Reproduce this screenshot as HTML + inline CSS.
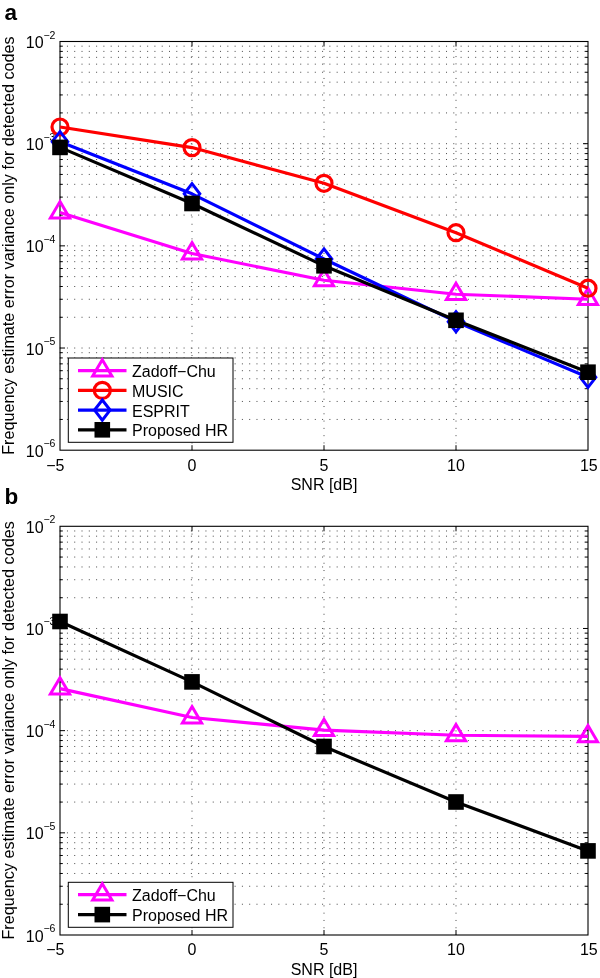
<!DOCTYPE html>
<html><head><meta charset="utf-8"><style>
html,body{margin:0;padding:0;background:#fff;}
body{width:600px;height:978px;overflow:hidden;}
svg{display:block;font-family:"Liberation Sans",sans-serif;will-change:transform;}
</style></head><body>
<svg width="600" height="978" viewBox="0 0 600 978">
<rect width="600" height="978" fill="#fff"/>
<path d="M59.65 419.44H588.00M59.65 401.45H588.00M59.65 388.68H588.00M59.65 378.78H588.00M59.65 370.69H588.00M59.65 363.85H588.00M59.65 357.93H588.00M59.65 352.70H588.00M59.65 348.02H588.00M59.65 317.27H588.00M59.65 299.28H588.00M59.65 286.51H588.00M59.65 276.61H588.00M59.65 268.52H588.00M59.65 261.68H588.00M59.65 255.75H588.00M59.65 250.53H588.00M59.65 245.85H588.00M59.65 215.09H588.00M59.65 197.10H588.00M59.65 184.33H588.00M59.65 174.43H588.00M59.65 166.34H588.00M59.65 159.50H588.00M59.65 153.58H588.00M59.65 148.35H588.00M59.65 143.68H588.00M59.65 112.92H588.00M59.65 94.93H588.00M59.65 82.16H588.00M59.65 72.26H588.00M59.65 64.17H588.00M59.65 57.33H588.00M59.65 51.40H588.00M59.65 46.18H588.00" stroke="#4a4a4a" stroke-width="1.00" stroke-dasharray="1.0 6.29" fill="none"/>
<path d="M192.00 41.50V450.20M324.00 41.50V450.20M456.00 41.50V450.20" stroke="#4a4a4a" stroke-width="1.00" stroke-dasharray="1.0 6.29" fill="none"/>
<path d="M60.00 419.44h2.80M588.00 419.44h-2.80M60.00 401.45h2.80M588.00 401.45h-2.80M60.00 388.68h2.80M588.00 388.68h-2.80M60.00 378.78h2.80M588.00 378.78h-2.80M60.00 370.69h2.80M588.00 370.69h-2.80M60.00 363.85h2.80M588.00 363.85h-2.80M60.00 357.93h2.80M588.00 357.93h-2.80M60.00 352.70h2.80M588.00 352.70h-2.80M60.00 348.02h5.00M588.00 348.02h-5.00M60.00 317.27h2.80M588.00 317.27h-2.80M60.00 299.28h2.80M588.00 299.28h-2.80M60.00 286.51h2.80M588.00 286.51h-2.80M60.00 276.61h2.80M588.00 276.61h-2.80M60.00 268.52h2.80M588.00 268.52h-2.80M60.00 261.68h2.80M588.00 261.68h-2.80M60.00 255.75h2.80M588.00 255.75h-2.80M60.00 250.53h2.80M588.00 250.53h-2.80M60.00 245.85h5.00M588.00 245.85h-5.00M60.00 215.09h2.80M588.00 215.09h-2.80M60.00 197.10h2.80M588.00 197.10h-2.80M60.00 184.33h2.80M588.00 184.33h-2.80M60.00 174.43h2.80M588.00 174.43h-2.80M60.00 166.34h2.80M588.00 166.34h-2.80M60.00 159.50h2.80M588.00 159.50h-2.80M60.00 153.58h2.80M588.00 153.58h-2.80M60.00 148.35h2.80M588.00 148.35h-2.80M60.00 143.68h5.00M588.00 143.68h-5.00M60.00 112.92h2.80M588.00 112.92h-2.80M60.00 94.93h2.80M588.00 94.93h-2.80M60.00 82.16h2.80M588.00 82.16h-2.80M60.00 72.26h2.80M588.00 72.26h-2.80M60.00 64.17h2.80M588.00 64.17h-2.80M60.00 57.33h2.80M588.00 57.33h-2.80M60.00 51.40h2.80M588.00 51.40h-2.80M60.00 46.18h2.80M588.00 46.18h-2.80M192.00 450.20v-5.00M192.00 41.50v5.00M324.00 450.20v-5.00M324.00 41.50v5.00M456.00 450.20v-5.00M456.00 41.50v5.00" stroke="#000" stroke-width="1" fill="none"/>
<rect x="60.00" y="41.50" width="528.00" height="408.70" fill="none" stroke="#000" stroke-width="1.10"/>
<text x="43.6" y="48.00" text-anchor="end" font-size="16">10</text>
<text x="43.4" y="38.50" font-size="10.5">&#8722;2</text>
<text x="43.6" y="150.18" text-anchor="end" font-size="16">10</text>
<text x="43.4" y="140.68" font-size="10.5">&#8722;3</text>
<text x="43.6" y="252.35" text-anchor="end" font-size="16">10</text>
<text x="43.4" y="242.85" font-size="10.5">&#8722;4</text>
<text x="43.6" y="354.52" text-anchor="end" font-size="16">10</text>
<text x="43.4" y="345.02" font-size="10.5">&#8722;5</text>
<text x="43.6" y="456.70" text-anchor="end" font-size="16">10</text>
<text x="43.4" y="447.20" font-size="10.5">&#8722;6</text>
<text x="64.50" y="470.50" text-anchor="end" font-size="16">&#8722;5</text>
<text x="192.00" y="470.50" text-anchor="middle" font-size="16">0</text>
<text x="324.00" y="470.50" text-anchor="middle" font-size="16">5</text>
<text x="456.00" y="470.50" text-anchor="middle" font-size="16">10</text>
<text x="588.80" y="470.50" text-anchor="middle" font-size="16">15</text>
<text x="324.00" y="489.80" text-anchor="middle" font-size="16">SNR [dB]</text>
<text transform="translate(14.2 245.60) rotate(-90)" text-anchor="middle" font-size="16.2">Frequency estimate error variance only for detected codes</text>
<text x="4.5" y="19.60" font-size="22.5" font-weight="bold">a</text>
<path d="M60.00 212.50L192.00 253.50L324.00 280.30L456.00 294.20L588.00 299.20" stroke="#ff00ff" stroke-width="3.15" fill="none" stroke-linejoin="round"/>
<path d="M60.00 201.60L69.60 217.90L50.40 217.90Z" fill="none" stroke="#ff00ff" stroke-width="3.0" stroke-linejoin="miter" stroke-miterlimit="10"/>
<path d="M192.00 242.60L201.60 258.90L182.40 258.90Z" fill="none" stroke="#ff00ff" stroke-width="3.0" stroke-linejoin="miter" stroke-miterlimit="10"/>
<path d="M324.00 269.40L333.60 285.70L314.40 285.70Z" fill="none" stroke="#ff00ff" stroke-width="3.0" stroke-linejoin="miter" stroke-miterlimit="10"/>
<path d="M456.00 283.30L465.60 299.60L446.40 299.60Z" fill="none" stroke="#ff00ff" stroke-width="3.0" stroke-linejoin="miter" stroke-miterlimit="10"/>
<path d="M588.00 288.30L597.60 304.60L578.40 304.60Z" fill="none" stroke="#ff00ff" stroke-width="3.0" stroke-linejoin="miter" stroke-miterlimit="10"/>
<path d="M60.00 127.00L192.00 147.60L324.00 183.30L456.00 232.70L588.00 288.20" stroke="#ff0000" stroke-width="3.15" fill="none" stroke-linejoin="round"/>
<circle cx="60.00" cy="127.00" r="8.0" fill="none" stroke="#ff0000" stroke-width="3.2"/>
<circle cx="192.00" cy="147.60" r="8.0" fill="none" stroke="#ff0000" stroke-width="3.2"/>
<circle cx="324.00" cy="183.30" r="8.0" fill="none" stroke="#ff0000" stroke-width="3.2"/>
<circle cx="456.00" cy="232.70" r="8.0" fill="none" stroke="#ff0000" stroke-width="3.2"/>
<circle cx="588.00" cy="288.20" r="8.0" fill="none" stroke="#ff0000" stroke-width="3.2"/>
<path d="M60.00 141.70L192.00 193.80L324.00 259.00L456.00 321.70L588.00 377.30" stroke="#0000ff" stroke-width="3.15" fill="none" stroke-linejoin="round"/>
<path d="M60.00 131.60L67.80 141.70L60.00 151.80L52.20 141.70Z" fill="none" stroke="#0000ff" stroke-width="3.0" stroke-linejoin="miter" stroke-miterlimit="10"/>
<path d="M192.00 183.70L199.80 193.80L192.00 203.90L184.20 193.80Z" fill="none" stroke="#0000ff" stroke-width="3.0" stroke-linejoin="miter" stroke-miterlimit="10"/>
<path d="M324.00 248.90L331.80 259.00L324.00 269.10L316.20 259.00Z" fill="none" stroke="#0000ff" stroke-width="3.0" stroke-linejoin="miter" stroke-miterlimit="10"/>
<path d="M456.00 311.60L463.80 321.70L456.00 331.80L448.20 321.70Z" fill="none" stroke="#0000ff" stroke-width="3.0" stroke-linejoin="miter" stroke-miterlimit="10"/>
<path d="M588.00 367.20L595.80 377.30L588.00 387.40L580.20 377.30Z" fill="none" stroke="#0000ff" stroke-width="3.0" stroke-linejoin="miter" stroke-miterlimit="10"/>
<path d="M60.00 147.40L192.00 203.50L324.00 265.80L456.00 320.30L588.00 372.20" stroke="#000000" stroke-width="3.15" fill="none" stroke-linejoin="round"/>
<rect x="52.20" y="139.60" width="15.60" height="15.60" fill="#000000"/>
<rect x="184.20" y="195.70" width="15.60" height="15.60" fill="#000000"/>
<rect x="316.20" y="258.00" width="15.60" height="15.60" fill="#000000"/>
<rect x="448.20" y="312.50" width="15.60" height="15.60" fill="#000000"/>
<rect x="580.20" y="364.40" width="15.60" height="15.60" fill="#000000"/>
<rect x="68.30" y="358.00" width="164.70" height="84.30" fill="#fff" stroke="#000" stroke-width="1"/>
<path d="M78 370.60H126.5" stroke="#ff00ff" stroke-width="3.15"/>
<path d="M102.30 359.70L111.90 376.00L92.70 376.00Z" fill="none" stroke="#ff00ff" stroke-width="3.0" stroke-linejoin="miter" stroke-miterlimit="10"/>
<text x="132" y="377.00" font-size="16">Zadoff&#8722;Chu</text>
<path d="M78 390.40H126.5" stroke="#ff0000" stroke-width="3.15"/>
<circle cx="102.30" cy="390.40" r="8.0" fill="none" stroke="#ff0000" stroke-width="3.2"/>
<text x="132" y="396.80" font-size="16">MUSIC</text>
<path d="M78 410.10H126.5" stroke="#0000ff" stroke-width="3.15"/>
<path d="M102.30 400.00L110.10 410.10L102.30 420.20L94.50 410.10Z" fill="none" stroke="#0000ff" stroke-width="3.0" stroke-linejoin="miter" stroke-miterlimit="10"/>
<text x="132" y="416.50" font-size="16">ESPRIT</text>
<path d="M78 429.80H126.5" stroke="#000000" stroke-width="3.15"/>
<rect x="94.50" y="422.00" width="15.60" height="15.60" fill="#000000"/>
<text x="132" y="436.20" font-size="16">Proposed HR</text>
<path d="M59.65 904.24H588.00M59.65 886.25H588.00M59.65 873.48H588.00M59.65 863.58H588.00M59.65 855.49H588.00M59.65 848.65H588.00M59.65 842.73H588.00M59.65 837.50H588.00M59.65 832.83H588.00M59.65 802.07H588.00M59.65 784.08H588.00M59.65 771.31H588.00M59.65 761.41H588.00M59.65 753.32H588.00M59.65 746.48H588.00M59.65 740.55H588.00M59.65 735.33H588.00M59.65 730.65H588.00M59.65 699.89H588.00M59.65 681.90H588.00M59.65 669.13H588.00M59.65 659.23H588.00M59.65 651.14H588.00M59.65 644.30H588.00M59.65 638.38H588.00M59.65 633.15H588.00M59.65 628.47H588.00M59.65 597.72H588.00M59.65 579.73H588.00M59.65 566.96H588.00M59.65 557.06H588.00M59.65 548.97H588.00M59.65 542.13H588.00M59.65 536.20H588.00M59.65 530.98H588.00" stroke="#4a4a4a" stroke-width="1.00" stroke-dasharray="1.0 6.29" fill="none"/>
<path d="M192.00 526.30V935.00M324.00 526.30V935.00M456.00 526.30V935.00" stroke="#4a4a4a" stroke-width="1.00" stroke-dasharray="1.0 6.29" fill="none"/>
<path d="M60.00 904.24h2.80M588.00 904.24h-2.80M60.00 886.25h2.80M588.00 886.25h-2.80M60.00 873.48h2.80M588.00 873.48h-2.80M60.00 863.58h2.80M588.00 863.58h-2.80M60.00 855.49h2.80M588.00 855.49h-2.80M60.00 848.65h2.80M588.00 848.65h-2.80M60.00 842.73h2.80M588.00 842.73h-2.80M60.00 837.50h2.80M588.00 837.50h-2.80M60.00 832.83h5.00M588.00 832.83h-5.00M60.00 802.07h2.80M588.00 802.07h-2.80M60.00 784.08h2.80M588.00 784.08h-2.80M60.00 771.31h2.80M588.00 771.31h-2.80M60.00 761.41h2.80M588.00 761.41h-2.80M60.00 753.32h2.80M588.00 753.32h-2.80M60.00 746.48h2.80M588.00 746.48h-2.80M60.00 740.55h2.80M588.00 740.55h-2.80M60.00 735.33h2.80M588.00 735.33h-2.80M60.00 730.65h5.00M588.00 730.65h-5.00M60.00 699.89h2.80M588.00 699.89h-2.80M60.00 681.90h2.80M588.00 681.90h-2.80M60.00 669.13h2.80M588.00 669.13h-2.80M60.00 659.23h2.80M588.00 659.23h-2.80M60.00 651.14h2.80M588.00 651.14h-2.80M60.00 644.30h2.80M588.00 644.30h-2.80M60.00 638.38h2.80M588.00 638.38h-2.80M60.00 633.15h2.80M588.00 633.15h-2.80M60.00 628.47h5.00M588.00 628.47h-5.00M60.00 597.72h2.80M588.00 597.72h-2.80M60.00 579.73h2.80M588.00 579.73h-2.80M60.00 566.96h2.80M588.00 566.96h-2.80M60.00 557.06h2.80M588.00 557.06h-2.80M60.00 548.97h2.80M588.00 548.97h-2.80M60.00 542.13h2.80M588.00 542.13h-2.80M60.00 536.20h2.80M588.00 536.20h-2.80M60.00 530.98h2.80M588.00 530.98h-2.80M192.00 935.00v-5.00M192.00 526.30v5.00M324.00 935.00v-5.00M324.00 526.30v5.00M456.00 935.00v-5.00M456.00 526.30v5.00" stroke="#000" stroke-width="1" fill="none"/>
<rect x="60.00" y="526.30" width="528.00" height="408.70" fill="none" stroke="#000" stroke-width="1.10"/>
<text x="43.6" y="532.80" text-anchor="end" font-size="16">10</text>
<text x="43.4" y="523.30" font-size="10.5">&#8722;2</text>
<text x="43.6" y="634.97" text-anchor="end" font-size="16">10</text>
<text x="43.4" y="625.47" font-size="10.5">&#8722;3</text>
<text x="43.6" y="737.15" text-anchor="end" font-size="16">10</text>
<text x="43.4" y="727.65" font-size="10.5">&#8722;4</text>
<text x="43.6" y="839.33" text-anchor="end" font-size="16">10</text>
<text x="43.4" y="829.83" font-size="10.5">&#8722;5</text>
<text x="43.6" y="941.50" text-anchor="end" font-size="16">10</text>
<text x="43.4" y="932.00" font-size="10.5">&#8722;6</text>
<text x="64.50" y="955.30" text-anchor="end" font-size="16">&#8722;5</text>
<text x="192.00" y="955.30" text-anchor="middle" font-size="16">0</text>
<text x="324.00" y="955.30" text-anchor="middle" font-size="16">5</text>
<text x="456.00" y="955.30" text-anchor="middle" font-size="16">10</text>
<text x="588.80" y="955.30" text-anchor="middle" font-size="16">15</text>
<text x="324.00" y="974.60" text-anchor="middle" font-size="16">SNR [dB]</text>
<text transform="translate(14.2 730.40) rotate(-90)" text-anchor="middle" font-size="16.2">Frequency estimate error variance only for detected codes</text>
<text x="4.5" y="504.20" font-size="22.5" font-weight="bold">b</text>
<path d="M60.00 688.60L192.00 717.50L324.00 730.10L456.00 735.30L588.00 736.40" stroke="#ff00ff" stroke-width="3.15" fill="none" stroke-linejoin="round"/>
<path d="M60.00 677.70L69.60 694.00L50.40 694.00Z" fill="none" stroke="#ff00ff" stroke-width="3.0" stroke-linejoin="miter" stroke-miterlimit="10"/>
<path d="M192.00 706.60L201.60 722.90L182.40 722.90Z" fill="none" stroke="#ff00ff" stroke-width="3.0" stroke-linejoin="miter" stroke-miterlimit="10"/>
<path d="M324.00 719.20L333.60 735.50L314.40 735.50Z" fill="none" stroke="#ff00ff" stroke-width="3.0" stroke-linejoin="miter" stroke-miterlimit="10"/>
<path d="M456.00 724.40L465.60 740.70L446.40 740.70Z" fill="none" stroke="#ff00ff" stroke-width="3.0" stroke-linejoin="miter" stroke-miterlimit="10"/>
<path d="M588.00 725.50L597.60 741.80L578.40 741.80Z" fill="none" stroke="#ff00ff" stroke-width="3.0" stroke-linejoin="miter" stroke-miterlimit="10"/>
<path d="M60.00 621.50L192.00 681.90L324.00 746.50L456.00 802.00L588.00 850.90" stroke="#000000" stroke-width="3.15" fill="none" stroke-linejoin="round"/>
<rect x="52.20" y="613.70" width="15.60" height="15.60" fill="#000000"/>
<rect x="184.20" y="674.10" width="15.60" height="15.60" fill="#000000"/>
<rect x="316.20" y="738.70" width="15.60" height="15.60" fill="#000000"/>
<rect x="448.20" y="794.20" width="15.60" height="15.60" fill="#000000"/>
<rect x="580.20" y="843.10" width="15.60" height="15.60" fill="#000000"/>
<rect x="68.30" y="882.30" width="164.70" height="45.00" fill="#fff" stroke="#000" stroke-width="1"/>
<path d="M78 894.60H126.5" stroke="#ff00ff" stroke-width="3.15"/>
<path d="M102.30 883.70L111.90 900.00L92.70 900.00Z" fill="none" stroke="#ff00ff" stroke-width="3.0" stroke-linejoin="miter" stroke-miterlimit="10"/>
<text x="132" y="901.00" font-size="16">Zadoff&#8722;Chu</text>
<path d="M78 914.60H126.5" stroke="#000000" stroke-width="3.15"/>
<rect x="94.50" y="906.80" width="15.60" height="15.60" fill="#000000"/>
<text x="132" y="921.00" font-size="16">Proposed HR</text>
</svg>
</body></html>
